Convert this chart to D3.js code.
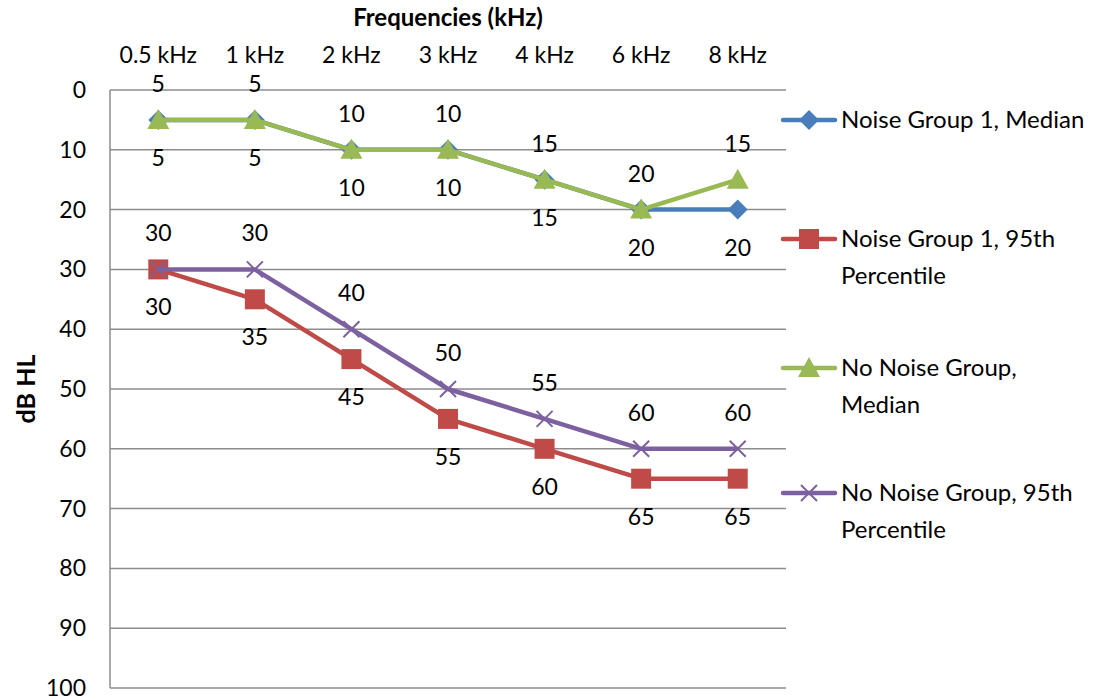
<!DOCTYPE html>
<html>
<head>
<meta charset="utf-8">
<script src="https://cdn.jsdelivr.net/npm/d3@7"></script>
<style>
  body { margin: 0; background: #fff; }
  svg { display: block; font-family: "Lato", "Open Sans", sans-serif; }
</style>
</head>
<body>
<svg id="chart" width="1099" height="700"></svg>
<script>
// Audiogram: hearing thresholds (dB HL) by test frequency
const frequencies = ["0.5 kHz", "1 kHz", "2 kHz", "3 kHz", "4 kHz", "6 kHz", "8 kHz"];
const noise1Median = [5, 5, 10, 10, 15, 20, 20];
const noise1P95 = [30, 35, 45, 55, 60, 65, 65];
const noNoiseMedian = [5, 5, 10, 10, 15, 20, 15];
const noNoiseP95 = [30, 30, 40, 50, 55, 60, 60];
const yTicks = [0, 10, 20, 30, 40, 50, 60, 70, 80, 90, 100];

const seriesList = [
  { name: ["Noise Group 1, Median"], values: noise1Median, color: "#4a7ebb", marker: "diamond", labelPos: "below" },
  { name: ["Noise Group 1, 95th", "Percentile"], values: noise1P95, color: "#be4b48", marker: "square", labelPos: "below" },
  { name: ["No Noise Group,", "Median"], values: noNoiseMedian, color: "#98b954", marker: "triangle", labelPos: "above" },
  { name: ["No Noise Group, 95th", "Percentile"], values: noNoiseP95, color: "#7d60a0", marker: "x", labelPos: "above" }
];

const FS = 23;
const svg = d3.select("#chart");
const plot = { left: 110, right: 786, top: 90, bottom: 688 };

const x = d3.scaleBand().domain(frequencies).range([plot.left, plot.right]);
const y = d3.scaleLinear().domain([0, 100]).range([plot.top, plot.bottom]);
const cx = d => x(d) + x.bandwidth() / 2;

// gridlines
svg.append("g").selectAll("line").data(yTicks).join("line")
  .attr("x1", plot.left).attr("x2", plot.right)
  .attr("y1", d => y(d)).attr("y2", d => y(d))
  .attr("stroke", "#8c8c8c").attr("stroke-width", 1.5);

// vertical axis line
svg.append("line")
  .attr("x1", plot.left).attr("x2", plot.left)
  .attr("y1", plot.top).attr("y2", plot.bottom)
  .attr("stroke", "#8c8c8c").attr("stroke-width", 1.5);

// y tick labels
svg.append("g").selectAll("text").data(yTicks).join("text")
  .attr("x", 86).attr("y", d => y(d)).attr("dy", "0.35em")
  .attr("text-anchor", "end").attr("font-size", FS).attr("fill", "#000")
  .text(d => d);

// x tick labels along the top
svg.append("g").selectAll("text").data(frequencies).join("text")
  .attr("x", d => cx(d)).attr("y", 55).attr("dy", "0.35em")
  .attr("text-anchor", "middle").attr("font-size", FS).attr("fill", "#000")
  .text(d => d);

// axis titles
svg.append("text").attr("x", 448).attr("y", 18).attr("dy", "0.35em")
  .attr("text-anchor", "middle").attr("font-size", 24).attr("font-weight", "bold")
  .text("Frequencies (kHz)");
svg.append("text")
  .attr("transform", `translate(26,${(plot.top + plot.bottom) / 2}) rotate(-90)`)
  .attr("dy", "0.35em").attr("text-anchor", "middle")
  .attr("font-size", 25).attr("font-weight", "bold")
  .text("dB HL");

function drawMarker(g, type, color, px, py) {
  if (type === "diamond") {
    g.append("path").attr("d", `M${px},${py - 10}L${px + 10},${py}L${px},${py + 10}L${px - 10},${py}Z`).attr("fill", color);
  } else if (type === "square") {
    g.append("rect").attr("x", px - 10).attr("y", py - 10).attr("width", 20).attr("height", 20).attr("fill", color);
  } else if (type === "triangle") {
    g.append("path").attr("d", `M${px},${py - 11}L${px + 11},${py + 9}L${px - 11},${py + 9}Z`).attr("fill", color);
  } else if (type === "x") {
    g.append("path").attr("d", `M${px - 8},${py - 8}L${px + 8},${py + 8}M${px - 8},${py + 8}L${px + 8},${py - 8}`)
      .attr("stroke", color).attr("stroke-width", 2).attr("fill", "none");
  }
}

const line = d3.line().x(d => cx(d.f)).y(d => y(d.v));

seriesList.forEach(s => {
  const pts = s.values.map((v, i) => ({ f: frequencies[i], v }));
  const g = svg.append("g");
  g.append("path").datum(pts).attr("d", line)
    .attr("fill", "none").attr("stroke", s.color).attr("stroke-width", 4.5)
    .attr("stroke-linejoin", "round");
  pts.forEach(p => drawMarker(g, s.marker, s.color, cx(p.f), y(p.v)));
});

// data labels
seriesList.forEach(s => {
  svg.append("g").selectAll("text").data(s.values).join("text")
    .attr("x", (d, i) => cx(frequencies[i]))
    .attr("y", d => y(d) + (s.labelPos === "above" ? -36 : 38))
    .attr("dy", "0.35em").attr("text-anchor", "middle")
    .attr("font-size", FS).attr("fill", "#000")
    .text(d => d);
});

// legend
const legendY = [120, 239, 368, 493];
seriesList.forEach((s, i) => {
  const g = svg.append("g").attr("transform", `translate(0,${legendY[i]})`);
  g.append("line").attr("x1", 783).attr("x2", 835).attr("y1", 0).attr("y2", 0)
    .attr("stroke", s.color).attr("stroke-width", 4.5).attr("stroke-linecap", "round");
  drawMarker(g, s.marker, s.color, 809, 0);
  s.name.forEach((t, j) => {
    g.append("text").attr("x", 841).attr("y", j * 37).attr("dy", "0.35em")
      .attr("font-size", 24).attr("fill", "#000").text(t);
  });
});
</script>
</body>
</html>
